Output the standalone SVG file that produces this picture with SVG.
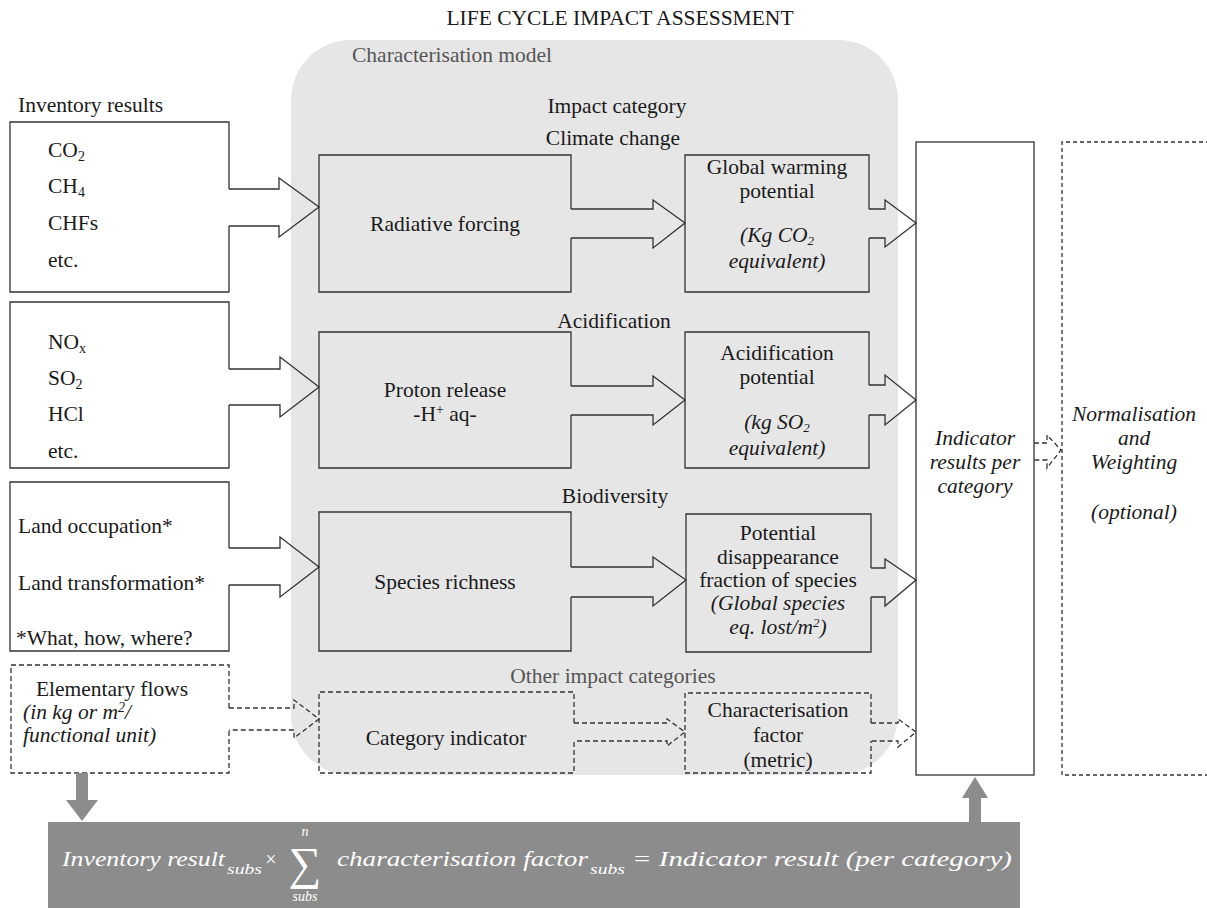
<svg xmlns="http://www.w3.org/2000/svg" width="1207" height="908" viewBox="0 0 1207 908">
<style>
.t{font-family:"Liberation Serif","Times New Roman",serif;font-size:21.5px;fill:#1a1a1a}
.c{text-anchor:middle}
.i{font-style:italic}
.g{fill:#555}
.ol{fill:none;stroke:#333;stroke-width:1.3}
.d{stroke-dasharray:5 3}
.wf{fill:#fff}
.f{font-family:"Liberation Serif","Times New Roman",serif;font-style:italic;fill:#fff}
</style>
<rect width="1207" height="908" fill="#fff"/>
<text class="t c" x="620" y="25" font-size="22.5">LIFE CYCLE IMPACT ASSESSMENT</text>
<g id="model">
<rect x="291" y="40" width="607" height="735" rx="60" fill="#e6e6e6"/>
<text class="t g" x="352" y="62">Characterisation model</text>
<text class="t c" x="617" y="113">Impact category</text>
<text class="t c" x="613" y="145">Climate change</text>
<text class="t c" x="614" y="328">Acidification</text>
<text class="t c" x="615" y="503">Biodiversity</text>
<text class="t c g" x="613" y="683">Other impact categories</text>
</g>
<text class="t" x="18" y="112">Inventory results</text>
<g id="inv1">
<rect x="10" y="122" width="219" height="170" class="wf"/>
<path class="ol" d="M229,189 V122 H10 V292 H229 V226"/>
<text class="t" x="48" y="157">CO<tspan font-size="14" dy="4">2</tspan></text>
<text class="t" x="48" y="193">CH<tspan font-size="14" dy="4">4</tspan></text>
<text class="t" x="48" y="230">CHFs</text>
<text class="t" x="48" y="267">etc.</text>
</g>
<g id="inv2">
<rect x="10" y="302" width="219" height="166" class="wf"/>
<path class="ol" d="M229,369 V302 H10 V468 H229 V405"/>
<text class="t" x="48" y="349">NO<tspan font-size="14" dy="4">x</tspan></text>
<text class="t" x="48" y="385">SO<tspan font-size="14" dy="4">2</tspan></text>
<text class="t" x="48" y="421">HCl</text>
<text class="t" x="48" y="458">etc.</text>
</g>
<g id="inv3">
<rect x="10" y="482" width="219" height="169" class="wf"/>
<path class="ol" d="M229,548 V482 H10 V651 H229 V585"/>
<text class="t" x="18" y="533">Land occupation*</text>
<text class="t" x="18" y="590">Land transformation*</text>
<text class="t" x="16" y="645">*What, how, where?</text>
</g>
<g id="elem">
<rect x="11" y="665" width="218" height="108" class="wf"/>
<path class="ol d" d="M229,708 V665 H11 V773 H229 V730"/>
<text class="t c" x="112" y="696">Elementary flows</text>
<text class="t i" x="23" y="719">(in kg or m<tspan font-size="14" dy="-7">2</tspan><tspan dy="7">/</tspan></text>
<text class="t i" x="23" y="742">functional unit)</text>
</g>
<g id="radiative">
<path class="ol" d="M571,209 V155 H319 V292 H571 V238"/>
<text class="t c" x="445" y="231">Radiative forcing</text>
</g>
<g id="gwp">
<path class="ol" d="M869,209 V155 H685 V292 H869 V238"/>
<text class="t c" x="777" y="174">Global warming</text>
<text class="t c" x="777" y="198">potential</text>
<text class="t c i" x="777" y="242">(Kg CO<tspan font-size="13" dy="3">2</tspan></text>
<text class="t c i" x="777" y="268">equivalent)</text>
</g>
<g id="proton">
<path class="ol" d="M571,386 V332 H319 V468 H571 V415"/>
<text class="t c" x="445" y="397">Proton release</text>
<text class="t c" x="445" y="421">-H<tspan font-size="14" dy="-7">+</tspan><tspan dy="7"> aq-</tspan></text>
</g>
<g id="acidpot">
<path class="ol" d="M869,385 V332 H685 V468 H869 V415"/>
<text class="t c" x="777" y="360">Acidification</text>
<text class="t c" x="777" y="384">potential</text>
<text class="t c i" x="777" y="429">(kg SO<tspan font-size="13" dy="3">2</tspan></text>
<text class="t c i" x="777" y="455">equivalent)</text>
</g>
<g id="species">
<path class="ol" d="M571,567 V512 H319 V651 H571 V597"/>
<text class="t c" x="445" y="589">Species richness</text>
</g>
<g id="pdf">
<path class="ol" d="M871,568 V514 H686 V652 H871 V597"/>
<text class="t c" x="778" y="540">Potential</text>
<text class="t c" x="778" y="564">disappearance</text>
<text class="t c" x="778" y="587">fraction of species</text>
<text class="t c i" x="778" y="610">(Global species</text>
<text class="t c i" x="778" y="634">eq. lost/m<tspan font-size="13" dy="-7">2</tspan><tspan dy="7">)</tspan></text>
</g>
<g id="catind">
<path class="ol d" d="M574,723 V692 H319 V773 H574 V741"/>
<text class="t c" x="446" y="745">Category indicator</text>
</g>
<g id="charfac">
<path class="ol d" d="M871,723 V693 H685 V773 H871 V741"/>
<text class="t c" x="778" y="717">Characterisation</text>
<text class="t c" x="778" y="742">factor</text>
<text class="t c" x="778" y="767">(metric)</text>
</g>
<g id="indicator">
<rect x="916" y="142" width="118" height="633" fill="#fff" stroke="#333" stroke-width="1.3"/>
<text class="t c i" x="975" y="445">Indicator</text>
<text class="t c i" x="975" y="469">results per</text>
<text class="t c i" x="975" y="493">category</text>
</g>
<g id="normalisation">
<path class="ol" stroke-dasharray="4 3" d="M1210,142 H1062 V775 H1210"/>
<text class="t c i" x="1134" y="421">Normalisation</text>
<text class="t c i" x="1134" y="445">and</text>
<text class="t c i" x="1134" y="469">Weighting</text>
<text class="t c i" x="1134" y="519">(optional)</text>
</g>
<g id="connectors">
<path class="ol" d="M229,189 H279 V178 L319,207 L279,237 V226 H229"/>
<path class="ol" d="M571,209 H653 V200 L685,223 L653,248 V238 H571"/>
<path class="ol" d="M869,209 H885 V200 L916,223 L885,247 V238 H869"/>
<path class="ol" d="M229,369 H280 V357 L319,387 L280,417 V405 H229"/>
<path class="ol" d="M571,386 H653 V376 L685,400 L653,425 V415 H571"/>
<path class="ol" d="M869,385 H885 V375 L916,400 L885,425 V415 H869"/>
<path class="ol" d="M229,548 H280 V537 L319,567 L280,597 V585 H229"/>
<path class="ol" d="M571,567 H653 V557 L686,580 L653,606 V597 H571"/>
<path class="ol" d="M871,568 H885 V559 L916,580 L885,606 V597 H871"/>
<path class="ol d" d="M229,708 H294 V700 L319,719 L294,738 V730 H229"/>
<path class="ol d" d="M574,723 H667 V719 L685,732 L667,746 V741 H574"/>
<path class="ol d" d="M871,723 H898 V719 L916,732 L898,747 V741 H871"/>
<path class="ol d" d="M1034,443 H1047 V435 L1061,450 L1047,468 V460 H1034"/>
<path fill="#8c8c8c" d="M76,773 H88 V800 H98 L82,821 L66,800 H76 Z"/>
<path fill="#8c8c8c" d="M969,822 V798 H962 L975,777 L988,798 H981 V822 Z"/>
</g>
<g id="formula">
<rect x="48" y="822" width="972" height="86" fill="#8c8c8c"/>
<text class="f" x="62" y="866" font-size="22" textLength="163" lengthAdjust="spacingAndGlyphs">Inventory result</text>
<text class="f" x="227" y="874" font-size="15" textLength="35" lengthAdjust="spacingAndGlyphs">subs</text>
<text class="f" x="264" y="866" font-size="20">×</text>
<text class="f" x="305" y="879" font-size="46" text-anchor="middle" font-style="normal">∑</text>
<text class="f" x="305" y="836" font-size="14" text-anchor="middle">n</text>
<text class="f" x="305" y="901" font-size="14" text-anchor="middle">subs</text>
<text class="f" x="337" y="866" font-size="22" textLength="251" lengthAdjust="spacingAndGlyphs">characterisation factor</text>
<text class="f" x="590" y="874" font-size="15" textLength="35" lengthAdjust="spacingAndGlyphs">subs</text>
<text class="f" x="632" y="866" font-size="22" textLength="380" lengthAdjust="spacingAndGlyphs">= Indicator result (per category)</text>
</g>
</svg>
